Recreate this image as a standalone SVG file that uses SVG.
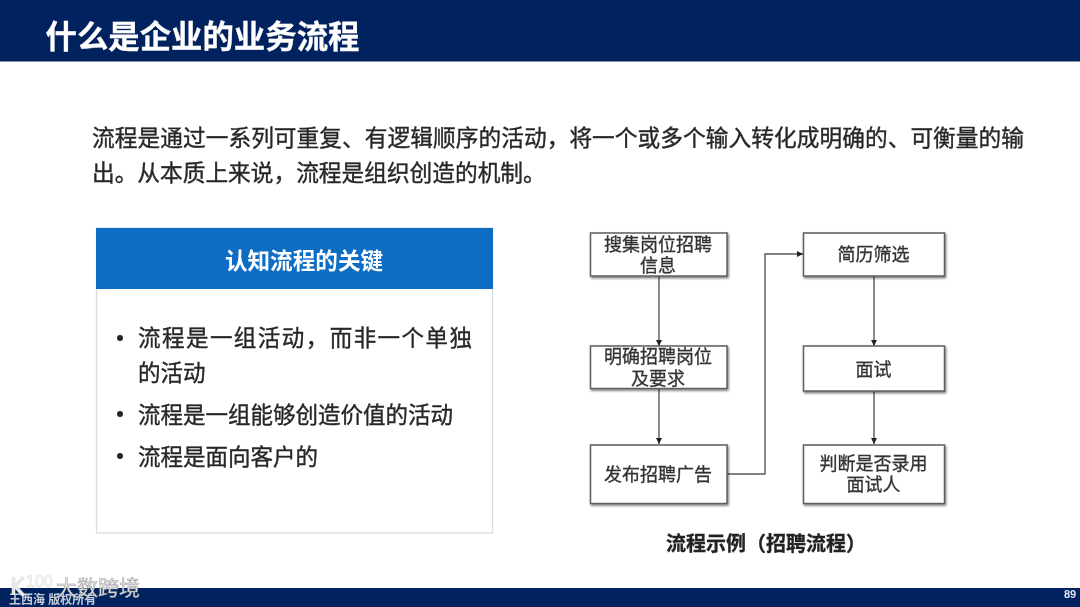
<svg xmlns="http://www.w3.org/2000/svg" width="1080" height="607" viewBox="0 0 1080 607">
<style>
text{font-family:"Liberation Sans","Noto Sans CJK SC",sans-serif}
.n{fill:#fff;stroke:#5e5e5e;stroke-width:1.5;filter:url(#sh)}
.t{font-size:18px;fill:#333;text-anchor:middle;stroke:#333;stroke-width:.3}
.b{font-size:22.5px;fill:#262626;stroke:#262626;stroke-width:.35}
.c{fill:none;stroke:#5a5a5a;stroke-width:1.4;marker-end:url(#ah)}
</style>
<defs>
<filter id="sh" x="-5%" y="-10%" width="112%" height="130%"><feDropShadow dx="1" dy="1.5" stdDeviation="1.2" flood-color="#000" flood-opacity=".55"/></filter>
<filter id="bl" x="-2%" y="-2%" width="104%" height="104%"><feGaussianBlur stdDeviation=".5"/></filter>
<filter id="bl2" x="-5%" y="-20%" width="110%" height="140%"><feGaussianBlur stdDeviation=".6"/></filter>
<marker id="ah" markerWidth="7" markerHeight="7" refX="6" refY="3.5" orient="auto" markerUnits="userSpaceOnUse"><path d="M0 .5L6 3.500L0 6.500Z" fill="#222"/></marker>
</defs>
<rect width="1080" height="607" fill="#fff"/>
<g filter="url(#bl)">
<g id="header">
<rect width="1080" height="61.5" fill="#05205f"/>
<text x="45.500" y="48" font-size="31.4" font-weight="700" fill="#fff" stroke="#fff" stroke-width=".3">什么是企业的业务流程</text>
</g>
<g id="intro">
<text class="b" x="92" y="146" textLength="932" style="font-size:22.7px">流程是通过一系列可重复、有逻辑顺序的活动，将一个或多个输入转化成明确的、可衡量的输</text>
<text class="b" x="92" y="181" style="font-size:22.7px">出。从本质上来说，流程是组织创造的机制。</text>
</g>
<g id="panel">
<rect x="96.5" y="228" width="396" height="305" fill="#fff" stroke="#d8dde1" stroke-width="1.3"/>
<rect x="96" y="228" width="397" height="61" fill="#0f6cc4"/>
<text x="304" y="269" font-size="22.6" font-weight="700" fill="#fff" text-anchor="middle">认知流程的关键</text>
<circle cx="120" cy="338" r="3" fill="#262626"/>
<text class="b" x="138" y="346" textLength="334">流程是一组活动，而非一个单独</text>
<text class="b" x="138" y="381">的活动</text>
<circle cx="120" cy="414" r="3" fill="#262626"/>
<text class="b" x="138" y="423">流程是一组能够创造价值的活动</text>
<circle cx="120" cy="456" r="3" fill="#262626"/>
<text class="b" x="138" y="465">流程是面向客户的</text>
</g>
<g id="connectors">
<path class="c" d="M659 276V346"/>
<path class="c" d="M659 388V444"/>
<path class="c" d="M727 474H765V254H803"/>
<path class="c" d="M874 276V346"/>
<path class="c" d="M874 391V444"/>
</g>
<g id="n1"><rect class="n" x="590.5" y="233" width="136.500" height="43"/><text class="t" x="658" y="250.500">搜集岗位招聘</text><text class="t" x="658" y="271.500">信息</text></g>
<g id="n2"><rect class="n" x="590.5" y="346" width="136.500" height="42.500"/><text class="t" x="658" y="363">明确招聘岗位</text><text class="t" x="658" y="384.500">及要求</text></g>
<g id="n3"><rect class="n" x="590.5" y="445" width="136.500" height="58.500"/><text class="t" x="658" y="481">发布招聘广告</text></g>
<g id="n4"><rect class="n" x="803.500" y="233" width="141" height="43"/><text class="t" x="873.500" y="261">简历筛选</text></g>
<g id="n5"><rect class="n" x="803.500" y="346" width="141" height="45"/><text class="t" x="873.500" y="376">面试</text></g>
<g id="n6"><rect class="n" x="803.500" y="445" width="141" height="58.500"/><text class="t" x="873.500" y="470">判断是否录用</text><text class="t" x="873.500" y="491">面试人</text></g>
<text id="caption" x="666" y="551" font-size="20" font-weight="700" fill="#222" stroke="#222" stroke-width=".3">流程示例（招聘流程）</text>
<g id="footer">
<rect y="588" width="1080" height="19" fill="#05205f"/>
<text x="1064" y="598" font-size="11" font-weight="700" fill="#dfe6f2">89</text>
</g>
</g>
<g id="watermark" filter="url(#bl2)">
<text x="9" y="603.500" font-size="12" font-weight="700" fill="#c4cbd9">王西海 版权所有</text>
<path d="M13.500 577V595M24 577L15 586L24 596" fill="none" stroke="#e8e8e8" stroke-width="3.600"/>
<text x="26" y="587" font-size="16" fill="none" stroke="#e8e8e8" stroke-width="1">100</text>
<text x="56" y="594.500" font-size="21" fill="#e6e6e6" stroke="#9a9a9a" stroke-width=".5">大数跨境</text>
</g>
</svg>
